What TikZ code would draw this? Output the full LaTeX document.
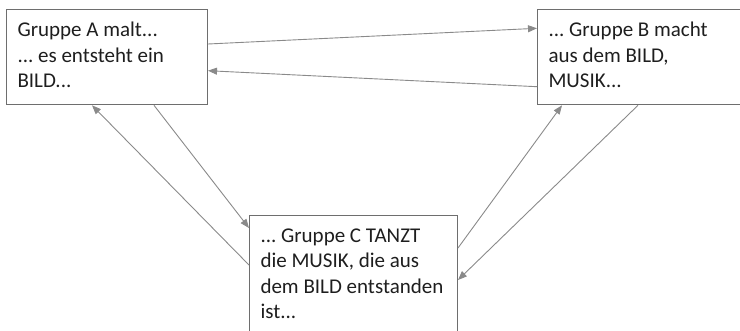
\documentclass[tikz,border=0pt]{standalone}
\usepackage{fontspec}
\setmainfont{Carlito}
\usetikzlibrary{arrows.meta}
\definecolor{boxline}{HTML}{6E6E6E}
\definecolor{arrowline}{HTML}{8A8A8A}
\definecolor{textcol}{HTML}{1E1E1E}
\frenchspacing

\begin{document}
\begin{tikzpicture}[
      x=1pt, y=-1pt,
      box/.style={draw=boxline, line width=1pt, anchor=north west, align=flush left,
        inner xsep=11pt, inner ysep=9pt, text=textcol,
        font=\fontsize{21}{25.5}\selectfont,
        execute at begin node=\strut, execute at end node=\strut},
      link/.style={draw=arrowline, line width=0.9pt,
        -{Triangle[length=9pt,width=7pt]}}
    ]
      \useasboundingbox (0,0) rectangle (740,330);
      \clip (0,0) rectangle (740,330);

      % the three groups
      \node[box, text width=179pt, minimum height=95pt] (malen) at (6,9.3)
        {Gruppe A malt...\\... es entsteht ein\\BILD...};
      \node[box, text width=184pt, minimum height=95pt] (musik) at (537,9.3)
        {... Gruppe B macht\\aus dem BILD,\\MUSIK...};
      \node[box, text width=186pt] (tanz) at (249,215)
        {... Gruppe C TANZT\\die MUSIK, die aus\\dem BILD entstanden\\ist...};

      % who passes what to whom
      \draw[link] ([yshift=-34.7pt]malen.north east) -- ([yshift=-19pt]musik.north west);
      \draw[link] ([yshift=-77.4pt]musik.north west) -- ([yshift=-61.4pt]malen.north east);
      \draw[link] ([xshift=148pt]malen.south west) -- ([yshift=-13pt]tanz.north west);
      \draw[link] ([yshift=-50pt]tanz.north west) -- ([xshift=86pt]malen.south west);
      \draw[link] ([yshift=-33pt]tanz.north east) -- ([xshift=25pt]musik.south west);
      \draw[link] ([xshift=101pt]musik.south west) -- ([yshift=-65pt]tanz.north east);
\end{tikzpicture}
\end{document}
